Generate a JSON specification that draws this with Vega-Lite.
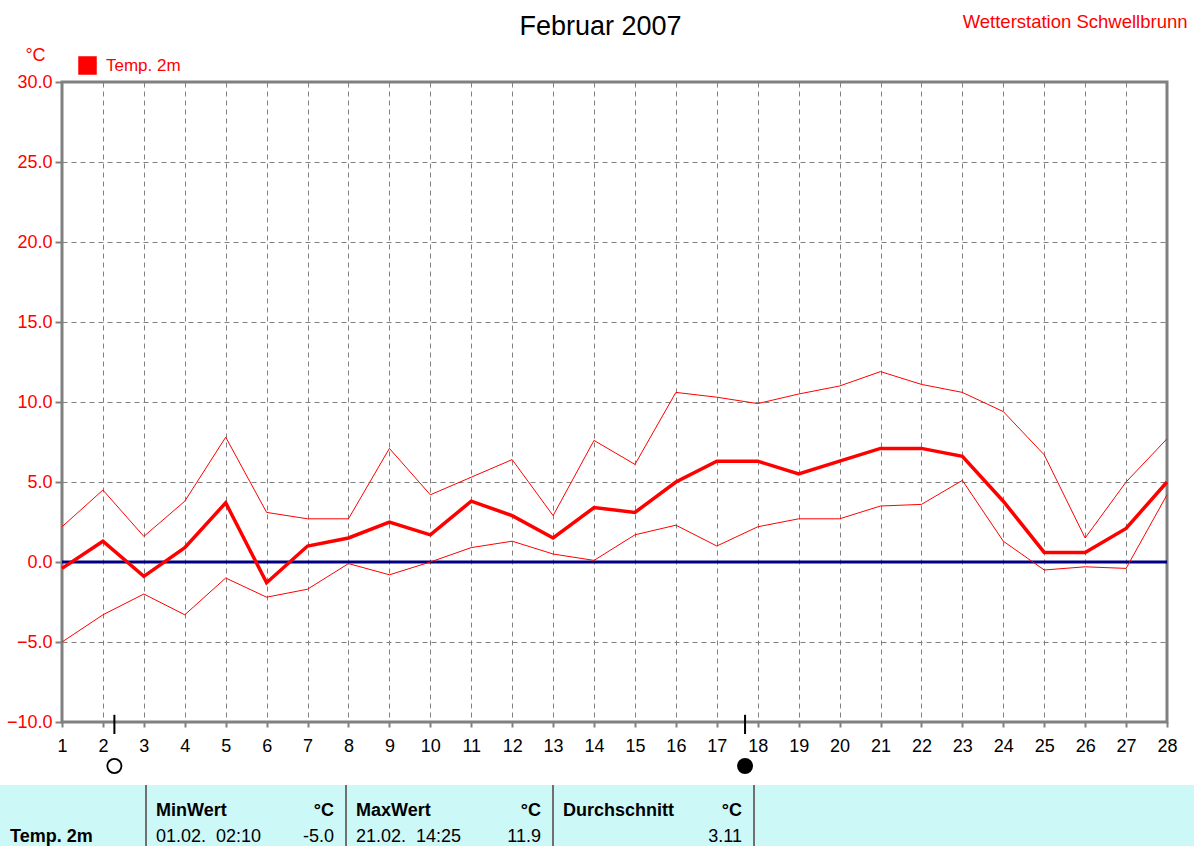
{
  "$schema": "https://vega.github.io/schema/vega-lite/v6.json",
  "autosize": "none",
  "width": 1105,
  "height": 640,
  "padding": {"left": 62, "top": 82, "right": 27, "bottom": 124},
  "background": "#ffffff",
  "config": {
    "font": "Liberation Sans",
    "view": {"stroke": "#808080", "strokeWidth": 3},
    "legend": {
      "orient": "none",
      "legendX": 16,
      "legendY": -26,
      "padding": 0,
      "symbolType": "square",
      "symbolSize": 289,
      "symbolFillColor": "#ff0000",
      "symbolStrokeColor": "#000000",
      "symbolStrokeWidth": 1.5,
      "labelFont": "Liberation Sans",
      "labelFontSize": 17,
      "labelColor": "#ff0000",
      "labelOffset": 9
    }
  },
  "datasets": {
    "temp": [
      {"day": 1, "min": -5.0, "mean": -0.4, "max": 2.2},
      {"day": 2, "min": -3.3, "mean": 1.3, "max": 4.5},
      {"day": 3, "min": -2.0, "mean": -0.9, "max": 1.6},
      {"day": 4, "min": -3.3, "mean": 0.9, "max": 3.8},
      {"day": 5, "min": -1.0, "mean": 3.7, "max": 7.8},
      {"day": 6, "min": -2.2, "mean": -1.3, "max": 3.1},
      {"day": 7, "min": -1.7, "mean": 1.0, "max": 2.7},
      {"day": 8, "min": -0.1, "mean": 1.5, "max": 2.7},
      {"day": 9, "min": -0.8, "mean": 2.5, "max": 7.1},
      {"day": 10, "min": 0.0, "mean": 1.7, "max": 4.2},
      {"day": 11, "min": 0.9, "mean": 3.8, "max": 5.3},
      {"day": 12, "min": 1.3, "mean": 2.9, "max": 6.4},
      {"day": 13, "min": 0.5, "mean": 1.5, "max": 2.9},
      {"day": 14, "min": 0.1, "mean": 3.4, "max": 7.6},
      {"day": 15, "min": 1.7, "mean": 3.1, "max": 6.1},
      {"day": 16, "min": 2.3, "mean": 5.0, "max": 10.6},
      {"day": 17, "min": 1.0, "mean": 6.3, "max": 10.3},
      {"day": 18, "min": 2.2, "mean": 6.3, "max": 9.9},
      {"day": 19, "min": 2.7, "mean": 5.5, "max": 10.5},
      {"day": 20, "min": 2.7, "mean": 6.3, "max": 11.0},
      {"day": 21, "min": 3.5, "mean": 7.1, "max": 11.9},
      {"day": 22, "min": 3.6, "mean": 7.1, "max": 11.1},
      {"day": 23, "min": 5.1, "mean": 6.6, "max": 10.6},
      {"day": 24, "min": 1.3, "mean": 3.8, "max": 9.4},
      {"day": 25, "min": -0.5, "mean": 0.6, "max": 6.7},
      {"day": 26, "min": -0.3, "mean": 0.6, "max": 1.5},
      {"day": 27, "min": -0.4, "mean": 2.1, "max": 5.0},
      {"day": 28, "min": 4.2, "mean": 5.0, "max": 7.7}
    ],
    "moon": [
      {"day": 2.28, "phase": "Vollmond"},
      {"day": 17.69, "phase": "Neumond"}
    ],
    "table": [
      {"col": 0, "row": 2, "kind": "name", "text": "Temp. 2m"},
      {"col": 1, "row": 1, "kind": "label", "text": "MinWert"},
      {"col": 2, "row": 1, "kind": "unit", "text": "°C"},
      {"col": 1, "row": 2, "kind": "time", "text": "01.02. \u00a002:10"},
      {"col": 2, "row": 2, "kind": "number", "text": "-5.0"},
      {"col": 2, "row": 1, "kind": "label", "text": "MaxWert"},
      {"col": 3, "row": 1, "kind": "unit", "text": "°C"},
      {"col": 2, "row": 2, "kind": "time", "text": "21.02. \u00a014:25"},
      {"col": 3, "row": 2, "kind": "number", "text": "11.9"},
      {"col": 3, "row": 1, "kind": "label", "text": "Durchschnitt"},
      {"col": 4, "row": 1, "kind": "unit", "text": "°C"},
      {"col": 4, "row": 2, "kind": "number", "text": "3.11"}
    ],
    "seps": [{"col": 1}, {"col": 2}, {"col": 3}, {"col": 4}],
    "band": [{"col": 0, "col2": 5, "row": 0, "row2": 3}]
  },
  "resolve": {
    "scale": {"x": "independent", "y": "independent"},
    "axis": {"x": "independent", "y": "independent"}
  },
  "layer": [
    {
      "data": {"name": "band"},
      "mark": {"type": "rect", "color": "#ccf8f8", "clip": false},
      "encoding": {
        "x": {"field": "col", "type": "quantitative", "scale": {"domain": [0, 1, 2, 3, 4, 5], "range": [-62, 84, 284, 491, 692, 1132], "nice": false, "zero": false}, "axis": null},
        "x2": {"field": "col2"},
        "y": {"field": "row", "type": "quantitative", "scale": {"domain": [0, 1, 2, 3], "range": [703, 734, 760, 764], "nice": false, "zero": false}, "axis": null},
        "y2": {"field": "row2"}
      }
    },
    {
      "data": {"values": [{}]},
      "mark": {"type": "rule", "color": "#000080", "strokeWidth": 3},
      "encoding": {
        "y": {"datum": 0, "type": "quantitative", "scale": {"domain": [-10, 30], "nice": false, "zero": false}, "axis": null}
      }
    },
    {
      "data": {"name": "temp"},
      "mark": {"type": "line", "strokeWidth": 1},
      "encoding": {
        "x": {
          "field": "day", "type": "quantitative",
          "scale": {"domain": [1, 28], "nice": false, "zero": false},
          "axis": {
            "orient": "bottom",
            "values": [1, 2, 3, 4, 5, 6, 7, 8, 9, 10, 11, 12, 13, 14, 15, 16, 17, 18, 19, 20, 21, 22, 23, 24, 25, 26, 27, 28],
            "format": "d",
            "labelFont": "Liberation Sans",
            "labelFontSize": 18,
            "labelColor": "#000000",
            "labelPadding": 10,
            "labelFlush": false,
            "labelOverlap": false,
            "tickSize": 5,
            "tickColor": "#808080",
            "tickWidth": 2,
            "domain": false,
            "grid": true,
            "gridColor": "#808080",
            "gridDash": [5, 4],
            "gridWidth": 1,
            "title": "Februar 2007",
            "titleFont": "Liberation Sans",
            "titleFontSize": 27,
            "titleFontWeight": "normal",
            "titleColor": "#000000",
            "titleAlign": "center",
            "titleBaseline": "alphabetic",
            "titleAngle": 0,
            "titleX": 538,
            "titleY": -688
          }
        },
        "y": {
          "field": "max", "type": "quantitative",
          "scale": {"domain": [-10, 30], "nice": false, "zero": false},
          "axis": {
            "orient": "left",
            "values": [-10, -5, 0, 5, 10, 15, 20, 25, 30],
            "format": ".1f",
            "labelFont": "Liberation Sans",
            "labelFontSize": 18,
            "labelColor": "#ff0000",
            "labelPadding": 3,
            "labelFlush": false,
            "tickSize": 7,
            "tickColor": "#808080",
            "tickWidth": 2,
            "domain": false,
            "grid": true,
            "gridColor": "#808080",
            "gridDash": [5, 4],
            "gridWidth": 1,
            "title": "°C",
            "titleFont": "Liberation Sans",
            "titleFontSize": 18,
            "titleFontWeight": "normal",
            "titleColor": "#ff0000",
            "titleAngle": 0,
            "titleAlign": "center",
            "titleBaseline": "middle",
            "titleX": -27,
            "titleY": -27
          }
        },
        "color": {
          "datum": "Temp. 2m",
          "type": "nominal",
          "scale": {"range": ["#ff0000"]},
          "legend": {
            "title": null,
            "encode": {"symbols": {"update": {"fill": {"value": "#ff0000"}, "stroke": {"value": "#000000"}, "strokeWidth": {"value": 1.5}, "shape": {"value": "square"}, "size": {"value": 289}, "opacity": {"value": 1}}}}
          }
        }
      }
    },
    {
      "data": {"name": "temp"},
      "mark": {"type": "line", "strokeWidth": 1},
      "encoding": {
        "x": {"field": "day", "type": "quantitative", "scale": {"domain": [1, 28], "nice": false, "zero": false}, "axis": null},
        "y": {"field": "min", "type": "quantitative", "scale": {"domain": [-10, 30], "nice": false, "zero": false}, "axis": null},
        "color": {
          "datum": "Temp. 2m",
          "type": "nominal",
          "scale": {"range": ["#ff0000"]},
          "legend": {
            "title": null,
            "encode": {"symbols": {"update": {"fill": {"value": "#ff0000"}, "stroke": {"value": "#000000"}, "strokeWidth": {"value": 1.5}, "shape": {"value": "square"}, "size": {"value": 289}, "opacity": {"value": 1}}}}
          }
        }
      }
    },
    {
      "data": {"name": "temp"},
      "mark": {"type": "line", "strokeWidth": 3.5},
      "encoding": {
        "x": {"field": "day", "type": "quantitative", "scale": {"domain": [1, 28], "nice": false, "zero": false}, "axis": null},
        "y": {"field": "mean", "type": "quantitative", "scale": {"domain": [-10, 30], "nice": false, "zero": false}, "axis": null},
        "color": {
          "datum": "Temp. 2m",
          "type": "nominal",
          "scale": {"range": ["#ff0000"]},
          "legend": {
            "title": null,
            "encode": {"symbols": {"update": {"fill": {"value": "#ff0000"}, "stroke": {"value": "#000000"}, "strokeWidth": {"value": 1.5}, "shape": {"value": "square"}, "size": {"value": 289}, "opacity": {"value": 1}}}}
          }
        }
      }
    },
    {
      "data": {"name": "moon"},
      "mark": {"type": "rule", "color": "#000000", "strokeWidth": 2, "clip": false},
      "encoding": {
        "x": {"field": "day", "type": "quantitative", "scale": {"domain": [1, 28], "nice": false, "zero": false}, "axis": null},
        "y": {"datum": -9.55, "type": "quantitative", "scale": {"domain": [-10, 30], "nice": false, "zero": false}, "axis": null},
        "y2": {"datum": -10.75}
      }
    },
    {
      "data": {"name": "moon"},
      "mark": {"type": "point", "shape": "circle", "size": 200, "stroke": "#000000", "strokeWidth": 1.8, "opacity": 1, "clip": false},
      "encoding": {
        "x": {"field": "day", "type": "quantitative", "scale": {"domain": [1, 28], "nice": false, "zero": false}, "axis": null},
        "y": {"datum": -12.75, "type": "quantitative", "scale": {"domain": [-10, 30], "nice": false, "zero": false}, "axis": null},
        "fill": {"condition": {"test": "datum.phase === 'Neumond'", "value": "#000000"}, "value": "#ffffff"}
      }
    },
    {
      "data": {"name": "seps"},
      "mark": {"type": "rule", "color": "#707070", "strokeWidth": 2, "clip": false},
      "encoding": {
        "x": {"field": "col", "type": "quantitative", "scale": {"domain": [0, 1, 2, 3, 4, 5], "range": [-62, 84, 284, 491, 692, 1132], "nice": false, "zero": false}, "axis": null},
        "y": {"datum": 0, "type": "quantitative", "scale": {"domain": [0, 1, 2, 3], "range": [703, 734, 760, 764], "nice": false, "zero": false}, "axis": null},
        "y2": {"datum": 3}
      }
    },
    {
      "data": {"name": "table"},
      "transform": [{"filter": {"field": "kind", "oneOf": ["name", "label"]}}],
      "mark": {"type": "text", "align": "left", "baseline": "alphabetic", "dx": 10, "font": "Liberation Sans", "fontSize": 18, "fontWeight": "bold", "color": "#000000", "clip": false},
      "encoding": {
        "x": {
          "field": "col", "type": "quantitative",
          "scale": {"domain": [0, 1, 2, 3, 4, 5], "range": [-62, 84, 284, 491, 692, 1132], "nice": false, "zero": false},
          "axis": {
            "orient": "top",
            "labels": false,
            "ticks": false,
            "domain": false,
            "grid": false,
            "title": "Wetterstation Schwellbrunn",
            "titleFont": "Liberation Sans",
            "titleFontSize": 18.5,
            "titleFontWeight": "normal",
            "titleColor": "#ff0000",
            "titleAlign": "right",
            "titleBaseline": "alphabetic",
            "titleAngle": 0,
            "titleX": 1125,
            "titleY": -55
          }
        },
        "y": {"field": "row", "type": "quantitative", "scale": {"domain": [0, 1, 2, 3], "range": [703, 734, 760, 764], "nice": false, "zero": false}, "axis": null},
        "text": {"field": "text"}
      }
    },
    {
      "data": {"name": "table"},
      "transform": [{"filter": {"field": "kind", "equal": "unit"}}],
      "mark": {"type": "text", "align": "right", "baseline": "alphabetic", "dx": -12, "font": "Liberation Sans", "fontSize": 18, "fontWeight": "bold", "color": "#000000", "clip": false},
      "encoding": {
        "x": {"field": "col", "type": "quantitative", "scale": {"domain": [0, 1, 2, 3, 4, 5], "range": [-62, 84, 284, 491, 692, 1132], "nice": false, "zero": false}, "axis": null},
        "y": {"field": "row", "type": "quantitative", "scale": {"domain": [0, 1, 2, 3], "range": [703, 734, 760, 764], "nice": false, "zero": false}, "axis": null},
        "text": {"field": "text"}
      }
    },
    {
      "data": {"name": "table"},
      "transform": [{"filter": {"field": "kind", "equal": "time"}}],
      "mark": {"type": "text", "align": "left", "baseline": "alphabetic", "dx": 10, "font": "Liberation Sans", "fontSize": 18, "fontWeight": "normal", "color": "#000000", "clip": false},
      "encoding": {
        "x": {"field": "col", "type": "quantitative", "scale": {"domain": [0, 1, 2, 3, 4, 5], "range": [-62, 84, 284, 491, 692, 1132], "nice": false, "zero": false}, "axis": null},
        "y": {"field": "row", "type": "quantitative", "scale": {"domain": [0, 1, 2, 3], "range": [703, 734, 760, 764], "nice": false, "zero": false}, "axis": null},
        "text": {"field": "text"}
      }
    },
    {
      "data": {"name": "table"},
      "transform": [{"filter": {"field": "kind", "equal": "number"}}],
      "mark": {"type": "text", "align": "right", "baseline": "alphabetic", "dx": -12, "font": "Liberation Sans", "fontSize": 18, "fontWeight": "normal", "color": "#000000", "clip": false},
      "encoding": {
        "x": {"field": "col", "type": "quantitative", "scale": {"domain": [0, 1, 2, 3, 4, 5], "range": [-62, 84, 284, 491, 692, 1132], "nice": false, "zero": false}, "axis": null},
        "y": {"field": "row", "type": "quantitative", "scale": {"domain": [0, 1, 2, 3], "range": [703, 734, 760, 764], "nice": false, "zero": false}, "axis": null},
        "text": {"field": "text"}
      }
    }
  ]
}
